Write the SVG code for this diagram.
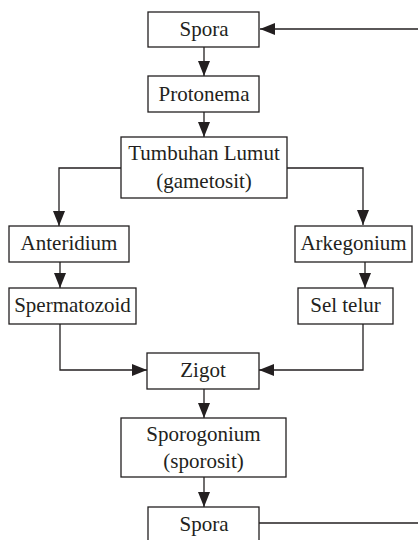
<svg xmlns="http://www.w3.org/2000/svg" width="420" height="540" viewBox="0 0 420 540">
<style>
.box{fill:#fff;stroke:#231f20;stroke-width:1.3}
.t{font-family:'Liberation Serif','DejaVu Serif',serif;font-size:21px;fill:#231f20;text-anchor:middle}
.c{fill:none;stroke:#231f20;stroke-width:1.3}
</style>
<defs>
<marker id="ah" markerUnits="userSpaceOnUse" markerWidth="16" markerHeight="12" refX="15" refY="6" orient="auto">
<path d="M0,0 L15,6 L0,12 Z" fill="#231f20"/>
</marker>
</defs>
<rect width="420" height="540" fill="#fff"/>
<g id="connectors">
<path class="c" d="M418,29 L260,29" marker-end="url(#ah)"/>
<path class="c" d="M204,47 L204,76" marker-end="url(#ah)"/>
<path class="c" d="M204,112 L204,137" marker-end="url(#ah)"/>
<path class="c" d="M121,168 L59,168 L59,226" marker-end="url(#ah)"/>
<path class="c" d="M287,168 L363,168 L363,225" marker-end="url(#ah)"/>
<path class="c" d="M60,262 L60,288" marker-end="url(#ah)"/>
<path class="c" d="M365,262 L365,288" marker-end="url(#ah)"/>
<path class="c" d="M60,324 L60,370 L147,370" marker-end="url(#ah)"/>
<path class="c" d="M363,324 L363,370 L259,370" marker-end="url(#ah)"/>
<path class="c" d="M204,389 L204,418" marker-end="url(#ah)"/>
<path class="c" d="M204,477 L204,507" marker-end="url(#ah)"/>
<path class="c" d="M259,523 L418,523"/>
</g>
<g id="spora1"><rect class="box" x="148" y="12" width="111" height="35"/><text class="t" x="204" y="36">Spora</text></g>
<g id="protonema"><rect class="box" x="148" y="76" width="111" height="36"/><text class="t" x="204" y="101">Protonema</text></g>
<g id="tumbuhan"><rect class="box" x="121" y="137" width="166" height="61"/><text class="t" x="204" y="160">Tumbuhan Lumut</text><text class="t" x="204" y="188">(gametosit)</text></g>
<g id="anteridium"><rect class="box" x="9" y="226" width="120" height="36"/><text class="t" x="69" y="250">Anteridium</text></g>
<g id="arkegonium"><rect class="box" x="295" y="226" width="117" height="36"/><text class="t" x="353.5" y="250">Arkegonium</text></g>
<g id="spermatozoid"><rect class="box" x="9" y="288" width="127" height="36"/><text class="t" x="72.5" y="312">Spermatozoid</text></g>
<g id="seltelur"><rect class="box" x="298" y="288" width="95" height="36"/><text class="t" x="345.5" y="312">Sel telur</text></g>
<g id="zigot"><rect class="box" x="147" y="353" width="112" height="36"/><text class="t" x="203" y="377">Zigot</text></g>
<g id="sporogonium"><rect class="box" x="121" y="418" width="165" height="59"/><text class="t" x="203.5" y="441">Sporogonium</text><text class="t" x="203.5" y="468">(sporosit)</text></g>
<g id="spora2"><rect class="box" x="148" y="507" width="111" height="40"/><text class="t" x="204" y="531">Spora</text></g>
</svg>
